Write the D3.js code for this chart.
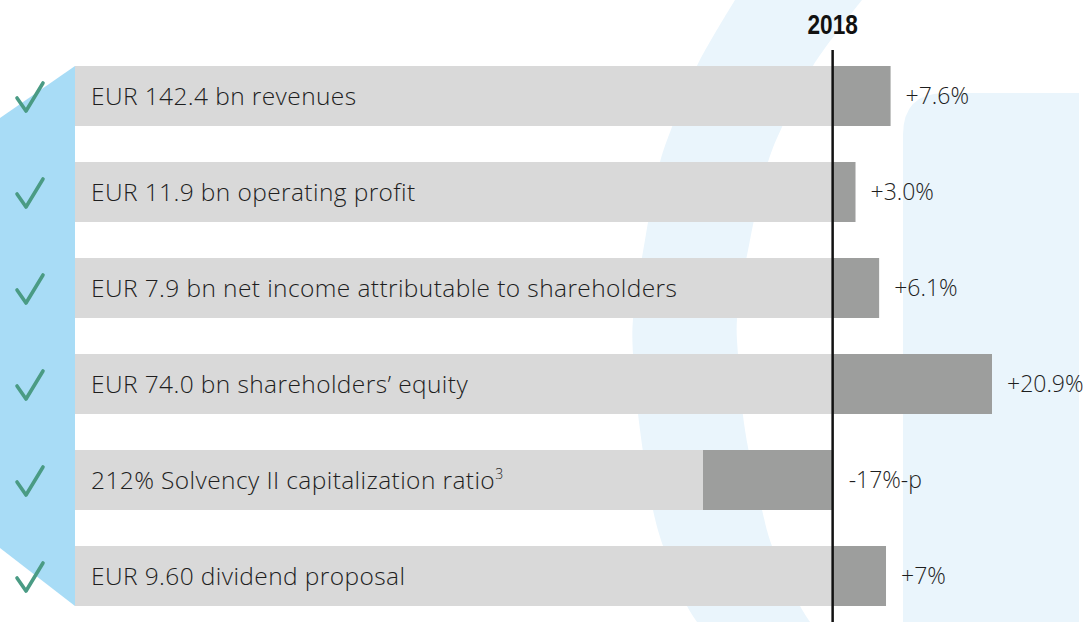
<!DOCTYPE html>
<html>
<head>
<meta charset="utf-8">
<script src="https://cdn.jsdelivr.net/npm/d3@7"></script>
<style>
  html, body { margin: 0; padding: 0; background: #fff; }
  svg { display: block; }
</style>
</head>
<body>
<svg></svg>
<script>
var width = 1086, height = 622;

// data
var labels = [
    "EUR 142.4 bn revenues",
    "EUR 11.9 bn operating profit",
    "EUR 7.9 bn net income attributable to shareholders",
    "EUR 74.0 bn shareholders\u2019 equity",
    "212% Solvency II capitalization ratio",
    "EUR 9.60 dividend proposal"
];
var changes = [7.6, 3.0, 6.1, 20.9, -17, 7];
var changeLabels = ["+7.6%", "+3.0%", "+6.1%", "+20.9%", "-17%-p", "+7%"];
var superscripts = ["", "", "", "", "3", ""];
var yearLabel = "2018";

var rows = labels.map(function(d, i) {
    return {label: d, change: changes[i], text: changeLabels[i], sup: superscripts[i]};
});

var svg = d3.select("svg")
    .attr("width", width)
    .attr("height", height);

// background decoration (light blue arcs)
var bg = svg.append("g").attr("fill", "#eaf5fc");
var outerEdge = [[735,0],[697,66],[672,127],[660,162],[645,240],[633,319],[633,355],[640,430],[653,510],[663,546],[687,606],[697,622]];
var innerEdge = [[810,622],[800,606],[772,546],[762,510],[745,430],[738,355],[737,319],[750,240],[768,162],[782,127],[813,66],[862,0]];
var edge = d3.line().curve(d3.curveCatmullRom);
bg.append("path")
    .attr("d", edge(outerEdge) + "L" + edge(innerEdge).slice(1) + "Z");
bg.append("path")
    .attr("d", "M903,622 L903,135 Q903,93 945,93 L1079,93 L1079,622 Z");

// left blue panel
svg.append("path")
    .attr("d", "M0,118 L75,66 L75,606 L0,548 Z")
    .attr("fill", "#a8dcf6");

var x = d3.scaleLinear()
    .domain([-17, 20.9])
    .range([703, 992]);

var y = d3.scaleBand()
    .domain(d3.range(rows.length))
    .range([66, 606])
    .paddingInner(0.375)
    .paddingOuter(0);

var labelStart = 75;

// label bars
svg.selectAll(".labelbar")
    .data(rows)
    .enter()
    .append("rect")
      .attr("class", "labelbar")
      .attr("x", labelStart)
      .attr("y", function(d, i) { return y(i); })
      .attr("width", x(0) - labelStart)
      .attr("height", y.bandwidth())
      .attr("fill", "#d9d9d9");

// change bars
svg.selectAll(".changebar")
    .data(rows)
    .enter()
    .append("rect")
      .attr("class", "changebar")
      .attr("x", function(d) { return x(Math.min(0, d.change)); })
      .attr("y", function(d, i) { return y(i); })
      .attr("width", function(d) { return Math.abs(x(d.change) - x(0)); })
      .attr("height", y.bandwidth())
      .attr("fill", "#9d9e9d");

// row labels
var lab = svg.selectAll(".rowlabel")
    .data(rows)
    .enter()
    .append("text")
      .attr("class", "rowlabel")
      .attr("x", labelStart + 16)
      .attr("y", function(d, i) { return y(i) + y.bandwidth() / 2 + 9; })
      .attr("font-family", "'Open Sans', sans-serif")
      .attr("font-weight", 300)
      .attr("font-size", "24.5px")
      .attr("letter-spacing", "0.4px")
      .attr("fill", "#1e1e1e")
      .text(function(d) { return d.label; });
lab.filter(function(d) { return d.sup; })
    .append("tspan")
      .attr("dy", -10)
      .attr("font-size", "14px")
      .text(function(d) { return d.sup; });

// change labels
svg.selectAll(".changelabel")
    .data(rows)
    .enter()
    .append("text")
      .attr("class", "changelabel")
      .attr("x", function(d) { return d.change >= 0 ? x(d.change) + 15 : x(0) + 16; })
      .attr("y", function(d, i) { return y(i) + y.bandwidth() / 2 + 8; })
      .attr("font-family", "'Open Sans', sans-serif")
      .attr("font-weight", 300)
      .attr("font-size", "23px")
      .attr("fill", "#1e1e1e")
      .text(function(d) { return d.text; });

// check marks
svg.selectAll(".check")
    .data(rows)
    .enter()
    .append("path")
      .attr("class", "check")
      .attr("transform", function(d, i) { return "translate(0," + (y(i) + y.bandwidth() / 2) + ")"; })
      .attr("d", "M17,2 L26,15 L43,-13")
      .attr("fill", "none")
      .attr("stroke", "#4a9b84")
      .attr("stroke-width", 3.6)
      .attr("stroke-linecap", "round")
      .attr("stroke-linejoin", "round");

// 2018 reference line
svg.append("line")
    .attr("x1", x(0))
    .attr("x2", x(0))
    .attr("y1", 50)
    .attr("y2", height)
    .attr("stroke", "#111")
    .attr("stroke-width", 2.5);

svg.append("text")
    .attr("transform", "translate(" + x(0) + ",34) scale(0.84,1)")
    .attr("text-anchor", "middle")
    .attr("font-family", "'Liberation Sans', Arial, sans-serif")
    .attr("font-weight", "bold")
    .attr("font-size", "27px")
    .attr("fill", "#111")
    .text(yearLabel);
</script>
</body>
</html>
